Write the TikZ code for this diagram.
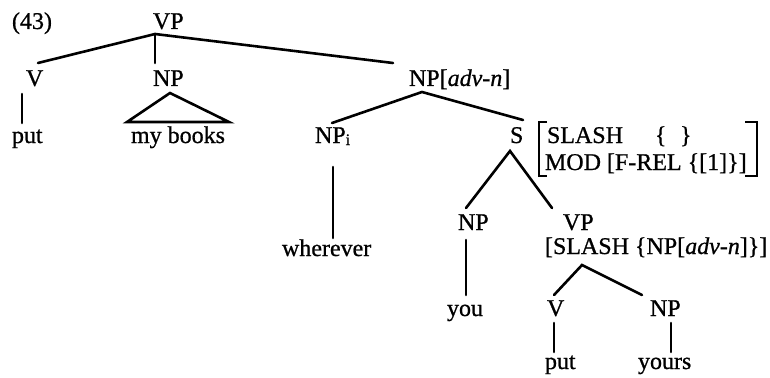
\documentclass[tikz,border=0pt]{standalone}
\usepackage{fontspec}
\setmainfont[FakeBold=0.8]{Liberation Serif}
\begin{document}
\begin{tikzpicture}[x=1pt,y=-1pt,
  lbl/.style={anchor=base west,inner sep=0pt,outer sep=0pt,font=\fontsize{24}{28}\selectfont},
  br/.style={line width=2.4pt,line cap=butt},
  edge/.style={line width=2.6pt,line cap=round}]
\useasboundingbox[fill=white] (0,0) rectangle (770,377);
% labels
\node[lbl] (num) at (12,29) {(43)};
\node[lbl] (vp) at (153,29) {VP};
\node[lbl] (v1) at (26,86) {V};
\node[lbl] (np1) at (153,86) {NP};
\node[lbl] (npadv) at (409,86) {NP[\textit{adv-n}]};
\node[lbl] (put1) at (12,143) {put};
\node[lbl] (books) at (131,143) {my books};
\node[lbl] (npi) at (315,143) {NP\raisebox{-2pt}{\fontsize{16}{16}\selectfont i}};
\node[lbl] (s) at (510,143) {S};
\node[lbl] (slash) at (547,143) {SLASH};
\node[lbl] (lbr) at (655,143) {\{};
\node[lbl] (rbr) at (680,143) {\}};
\node[lbl] (mod) at (545,170) {MOD [F-REL \{[1]\}]};
\node[lbl] (np2) at (458,230) {NP};
\node[lbl] (vp2) at (563,230) {VP};
\node[lbl] (wherever) at (282,256) {wherever};
\node[lbl] (vpslash) at (545,254) {[SLASH \{NP[\textit{adv-n}]\}]};
\node[lbl] (you) at (447,316) {you};
\node[lbl] (v2) at (547,316) {V};
\node[lbl] (np3) at (650,316) {NP};
\node[lbl] (put2) at (545,369) {put};
\node[lbl] (yours) at (638,369) {yours};
% connector end points
\coordinate (vpB) at (155,34);
\coordinate (v1T) at (38,63);
\coordinate (np1T) at (155,63);
\coordinate (npadvT) at (393,63);
\coordinate (v1B) at (22,94);
\coordinate (put1T) at (22,123);
\coordinate (np1B) at (170,93);
\coordinate (booksL) at (127,122);
\coordinate (booksR) at (229,122);
\coordinate (npadvB) at (422,92);
\coordinate (npiT) at (332,123);
\coordinate (sT) at (523,120);
\coordinate (npiB) at (333,167);
\coordinate (whereverT) at (333,238);
\coordinate (sB) at (510,151);
\coordinate (np2T) at (466,208);
\coordinate (vp2T) at (552,208);
\coordinate (np2B) at (466,240);
\coordinate (youT) at (466,295);
\coordinate (vpslashB) at (582,265);
\coordinate (v2T) at (554,295);
\coordinate (np3T) at (642,295);
\coordinate (v2B) at (554,323);
\coordinate (put2T) at (554,352);
\coordinate (np3B) at (671,323);
\coordinate (yoursT) at (671,352);
% connectors
\draw[edge] (v1T) -- (vpB) -- (npadvT);
\draw[edge] (vpB) -- (np1T);
\draw[edge] (v1B) -- (put1T);
\draw[edge,line join=miter] (np1B) -- (booksL) -- (booksR) -- cycle;
\draw[edge] (npiT) -- (npadvB) -- (sT);
\draw[edge] (npiB) -- (whereverT);
\draw[edge] (np2T) -- (sB) -- (vp2T);
\draw[edge] (np2B) -- (youT);
\draw[edge] (v2T) -- (vpslashB) -- (np3T);
\draw[edge] (v2B) -- (put2T);
\draw[edge] (np3B) -- (yoursT);
% AVM brackets
\draw[br] (547,122) -- (539,122) -- (539,176) -- (547,176);
\draw[br] (745,122) -- (757,122) -- (757,176) -- (745,176);
\end{tikzpicture}
\end{document}
